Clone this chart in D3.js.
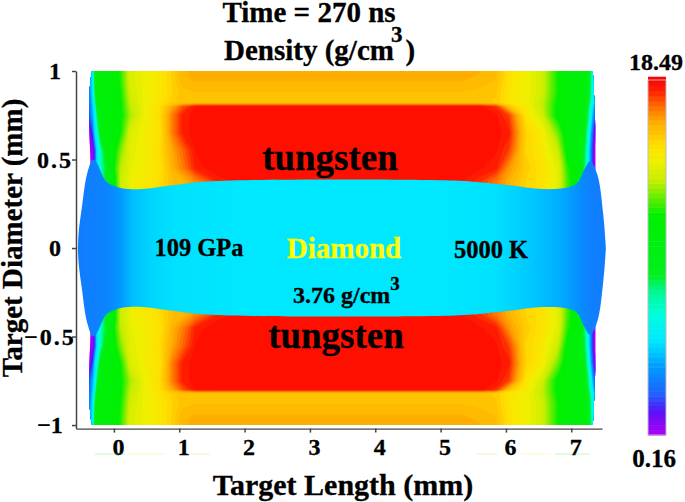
<!DOCTYPE html>
<html lang="en">

<head>
  <meta charset="UTF-8">
  <title>Density at 270 ns</title>
  <script src="https://d3js.org/d3.v7.min.js"></script>
  <style>
    * {
      padding: 0;
      margin: 0;
      box-sizing: border-box;
    }

    body {
      background: #fff;
    }

    text {
      font-family: "Liberation Serif", serif;
      font-weight: bold;
      fill: #000;
      stroke: #000;
      stroke-width: 0.3px;
    }
  </style>
</head>

<body>
  <div id="container"></div>
  <script>
    const lengthTicks = [0, 1, 2, 3, 4, 5, 6, 7]
    const diameterTicks = [-1, -0.5, 0, 0.5, 1]
    const densityMin = 0.16
    const densityMax = 18.49

    const barDensity = [0.16, 1.26, 2.14, 3.5, 4.9, 6.3, 7.5, 8.3, 11.4, 12, 13.2, 14.2, 15, 16.25, 17.1, 17.8, 18.49]
    const barColors = ['#a800f8', '#5a10f5', '#2060ff', '#0099ff', '#00e8ff', '#00ffdd', '#00f890', '#00f020', '#00f000',
      '#44ee00', '#c8ee00', '#f0f000', '#ffe000', '#ffaa00', '#ff6600', '#ff2000', '#ff0000']

    // tungsten density, upper half, mirrored for the lower half (g/cm3)
    const gridX = [-0.40, -0.37, -0.33, -0.30, -0.26, -0.20, -0.10, 0, 0.10, 0.25, 0.45, 0.70, 0.90, 1.05, 1.25, 1.60,
      2.00, 3.50, 5.00, 5.30, 5.60, 5.85, 6.05, 6.30, 6.55, 6.80, 6.95, 7.10, 7.20, 7.28, 7.35, 7.40]
    const gridY = [1.02, 0.95, 0.88, 0.82, 0.80, 0.75, 0.65, 0.55, 0.45, 0.38, 0.30]
    const tungstenDensity = [
      [4.5, 4.5, 4.8, 8.5, 10.5, 10.8, 10.8, 11, 11.8, 13.8, 14.2, 14.8, 15.5, 16.1, 16.3, 16.3, 16.3, 16.3, 16.3, 16.3, 16.2, 16, 15, 14.4, 13.6, 11.6, 10.8, 10.5, 10.5, 9, 4.8, 4.5],
      [4, 4.2, 4.8, 8, 10.5, 10.8, 10.8, 11, 11.8, 13.8, 14.2, 14.8, 15.5, 16.1, 16.2, 16.2, 16.2, 16.2, 16.2, 16.2, 16.1, 15.9, 15, 14.4, 13.6, 11.6, 10.8, 10.5, 10.5, 8.8, 4.8, 4],
      [3, 3.5, 4.8, 7.5, 10.5, 10.8, 10.8, 11, 11.6, 13.6, 14.2, 14.8, 15.4, 15.8, 15.9, 15.9, 15.9, 15.9, 15.9, 15.9, 15.8, 15.7, 14.9, 14.4, 13.6, 11.6, 10.8, 10.6, 10.5, 8.5, 4.8, 3],
      [2.5, 3, 4.5, 6, 10.5, 10.8, 10.8, 11, 11.4, 13.4, 14.2, 15, 15.6, 15.8, 15.8, 15.8, 15.8, 15.8, 15.8, 15.8, 15.8, 15.6, 14.9, 14.4, 13.4, 11.4, 10.8, 10.6, 10.5, 8, 5, 2.5],
      [2.3, 2.8, 4.2, 5.5, 9, 10.8, 10.8, 11, 11.4, 13.2, 14.2, 15.1, 16.4, 17.4, 18.2, 18.3, 18.3, 18.3, 18.3, 18.3, 18.3, 17.8, 15.8, 14.6, 13.4, 11.3, 10.8, 10.6, 10.3, 7.5, 4, 2],
      [2, 2.5, 4, 5, 8, 10.5, 10.8, 11, 11.3, 13, 14.2, 15.2, 17, 18, 18.3, 18.4, 18.4, 18.4, 18.4, 18.4, 18.3, 18.2, 17.6, 15, 13.6, 11.2, 10.8, 10.6, 10, 7, 3, 1.5],
      [0.6, 1, 1.5, 4.5, 6, 10, 10.8, 11, 11.6, 13.8, 14.4, 15, 17, 18, 18.3, 18.4, 18.4, 18.4, 18.4, 18.4, 18.3, 18.3, 18, 15.5, 14.6, 12.5, 10.8, 10.6, 9.5, 5.5, 1, 0.4],
      [0.16, 0.16, 0.3, 1.5, 5, 7, 10.5, 11.2, 12.6, 14, 14.4, 15.2, 16.4, 17.2, 18.2, 18.4, 18.4, 18.4, 18.4, 18.4, 18.3, 18.2, 17.6, 15.4, 14.8, 13.4, 11, 10.5, 8.5, 4.5, 0.3, 0.16],
      [0.16, 0.16, 0.3, 1.5, 5, 7, 9, 11.5, 13.2, 14.1, 14.5, 15, 16.2, 16.9, 18, 18.4, 18.4, 18.4, 18.4, 18.3, 18.2, 18, 16.6, 15.6, 15, 14, 11.8, 10.8, 8, 4.5, 0.3, 0.16],
      [0.16, 0.16, 0.3, 1.5, 5, 7, 9, 11, 13.4, 14.2, 14.6, 15.2, 15.9, 16.1, 16.8, 18, 18.4, 18.4, 18.4, 18.2, 17.8, 17, 16.2, 15.4, 15, 14, 12, 10.8, 8, 4.5, 0.3, 0.16],
      [0.16, 0.16, 0.3, 1.5, 5, 7, 9, 11, 13.4, 14.2, 14.6, 15.2, 15.9, 16.1, 16.8, 18, 18.4, 18.4, 18.4, 18.2, 17.8, 17, 16.2, 15.4, 15, 14, 12, 10.8, 8, 4.5, 0.3, 0.16]
    ]

    // outer edge of the tungsten (mm)
    const edgeDiameter = [-1, -0.85, -0.6, -0.48, 0.48, 0.6, 0.85, 1]
    const edgeLeft = [-0.34, -0.375, -0.37, -0.36, -0.36, -0.37, -0.375, -0.34]
    const edgeRight = [7.33, 7.35, 7.37, 7.37, 7.37, 7.37, 7.35, 7.33]

    // diamond outline, upper half (mm), mirrored for the lower half
    const diamondX = [-0.55, -0.54, -0.49, -0.41, -0.32, -0.26, -0.21, -0.11, 0.015, 0.14, 0.44, 0.81, 1.32, 2.13, 4.87, 5.50, 6.02, 6.57, 6.94, 7.09, 7.18, 7.29, 7.40, 7.49, 7.53]
    const diamondHalf = [0, 0.085, 0.23, 0.42, 0.50, 0.48, 0.44, 0.373, 0.35, 0.336, 0.333, 0.35, 0.373, 0.384, 0.384, 0.375, 0.356, 0.333, 0.342, 0.367, 0.43, 0.49, 0.412, 0.186, 0]

    // diamond density along the target
    const diamondProfileX = [-0.55, -0.3, -0.1, 0.1, 0.3, 0.6, 1, 2, 5, 5.8, 6.3, 6.8, 7.1, 7.3, 7.55]
    const diamondProfile = [2.8, 2.9, 3.0, 3.5, 4.2, 4.6, 4.8, 4.9, 4.9, 4.8, 4.4, 3.9, 3.3, 2.9, 2.8]

    // pale stray dashes under the axis (mm)
    const strayStart = [-0.29, 0.21, 1.12, 5.55, 6.22, 6.75]
    const strayEnd = [0.17, 0.78, 1.47, 5.87, 6.68, 7.29]
    const strayDensity = [10, 14, 16, 16, 14, 10]

    const width = 685
    const height = 502

    const svg = d3.select('#container').append('svg')
      .attr('width', width)
      .attr('height', height)
      .style('display', 'block')

    const x = d3.scaleLinear().domain([-0.58, 7.47]).range([76, 602])
    const y = d3.scaleLinear().domain([-1.02, 1]).range([428.6, 71])
    const color = d3.scaleLinear().domain(barDensity).range(barColors)
    const levels = d3.range(densityMin, densityMax, 0.25)

    // tungsten, contoured from the grid and clipped to the sample
    const edgeArea = d3.area()
      .curve(d3.curveMonotoneY)
      .y((d, i) => y(d))
      .x0((d, i) => x(edgeLeft[i]))
      .x1((d, i) => x(edgeRight[i]))

    svg.append('clipPath').attr('id', 'sample')
      .append('path')
      .attr('d', edgeArea(edgeDiameter))

    const nx = gridX.length
    const ny = gridY.length
    const toX = d3.scaleLinear().domain(d3.range(nx).map(i => i + 0.5)).range(gridX)
    const toY = d3.scaleLinear().domain(d3.range(ny).map(i => i + 0.5)).range(gridY)
    const contours = d3.contours().size([nx, ny]).thresholds(levels)(tungstenDensity.flat())

    const field = svg.append('g').attr('clip-path', 'url(#sample)')
    ;[1, -1].forEach(side => {
      const path = d3.geoPath(d3.geoTransform({
        point(px, py) {
          this.stream.point(x(toX(px)), y(side * toY(py)))
        }
      }))
      field.append('g').selectAll('path')
        .data(contours)
        .join('path')
        .attr('d', path)
        .attr('fill', d => color(d.value))
    })

    // diamond on top
    const gradient = svg.append('linearGradient')
      .attr('id', 'diamond-fill')
      .attr('gradientUnits', 'userSpaceOnUse')
      .attr('x1', x(diamondProfileX[0]))
      .attr('x2', x(diamondProfileX[diamondProfileX.length - 1]))
      .attr('y1', 0)
      .attr('y2', 0)
    const profileFrac = d3.scaleLinear().domain(d3.extent(diamondProfileX)).range([0, 1])
    gradient.selectAll('stop')
      .data(diamondProfileX)
      .join('stop')
      .attr('offset', d => profileFrac(d))
      .attr('stop-color', (d, i) => color(diamondProfile[i]))

    const diamondArea = d3.area()
      .curve(d3.curveCatmullRom)
      .x((d, i) => x(diamondX[i]))
      .y0(d => y(-d))
      .y1(d => y(d))

    svg.append('path')
      .attr('d', diamondArea(diamondHalf))
      .attr('fill', 'url(#diamond-fill)')

    // axes
    const axisLeft = d3.axisLeft(y).tickValues(diameterTicks).tickSize(4).tickSizeOuter(0)
      .tickFormat(d => d3.format('')(d).replace('-', '\u2212'))
    const axisBottom = d3.axisBottom(x).tickValues(lengthTicks).tickSize(4).tickSizeOuter(0)

    const gy = svg.append('g').attr('transform', `translate(${x.range()[0]},0)`).call(axisLeft)
    const gx = svg.append('g').attr('transform', `translate(0,${y.range()[0]})`).call(axisBottom)

    ;[gy, gx].forEach(g => {
      g.selectAll('.domain,.tick line').attr('stroke', '#444').attr('stroke-width', 1.5)
      g.selectAll('text').attr('font-family', null).attr('font-size', 24)
    })
    gx.select('.domain').attr('stroke-width', 1.2)
    gx.selectAll('text').attr('dx', 4).attr('dy', 0).attr('y', 26)
    gy.selectAll('text')
      .attr('text-anchor', 'middle')
      .attr('x', d => d < 0 ? -26 : -21)
      .style('letter-spacing', d => d % 1 ? '2px' : null)

    // pale stray dashes
    svg.append('g').selectAll('line')
      .data(strayStart)
      .join('line')
      .attr('x1', d => x(d))
      .attr('x2', (d, i) => x(strayEnd[i]))
      .attr('y1', 454)
      .attr('y2', 454)
      .attr('stroke', (d, i) => color(strayDensity[i]))
      .attr('stroke-opacity', 0.25)

    // colour bar
    const barY = d3.scaleLinear().domain([densityMin, densityMax]).range([435, 80])
    const bar = svg.append('g')
    bar.selectAll('rect')
      .data(levels)
      .join('rect')
      .attr('x', 648)
      .attr('width', 18)
      .attr('y', d => barY(d + 0.25))
      .attr('height', d => barY(d) - barY(d + 0.25) + 0.5)
      .attr('fill', d => color(d))
    bar.append('rect')
      .attr('x', 648)
      .attr('y', 80)
      .attr('width', 18)
      .attr('height', 355)
      .attr('fill', 'none')
      .attr('stroke', '#bbb')

    // text
    const label = (t, px, py, size, anchor = 'middle', fill = '#000') => svg.append('text')
      .attr('x', px)
      .attr('y', py)
      .attr('font-size', size)
      .attr('text-anchor', anchor)
      .style('fill', fill)
      .style('stroke', fill)
      .text(t)

    label('Time = 270 ns', 309, 22, 29)
    const densityTitle = label('Density (g/cm', 224, 60, 29, 'start')
    densityTitle.append('tspan').attr('dx', -3).attr('dy', -18).attr('font-size', 23).text('3')
    densityTitle.append('tspan').attr('dx', 3).attr('dy', 18).text(')')

    label('18.49', 656, 70, 24)
    label('0.16', 654, 467, 25)

    label('Target Length (mm)', 343, 495, 30)
    label('Target Diameter (mm)', 0, 0, 29)
      .attr('transform', 'translate(22,238) rotate(-90)')

    label('tungsten', 330, 170, 37)
    label('tungsten', 336, 348, 37)
    label('109 GPa', 199, 256, 24.5)
    label('Diamond', 344, 258, 29, 'middle', '#ffff00')
    label('5000 K', 491, 258, 24.5)
    const densityNote = label('3.76 g/cm', 293, 303, 24, 'start')
    densityNote.append('tspan').attr('dy', -13).attr('font-size', 19).text('3')
  </script>
</body>

</html>
